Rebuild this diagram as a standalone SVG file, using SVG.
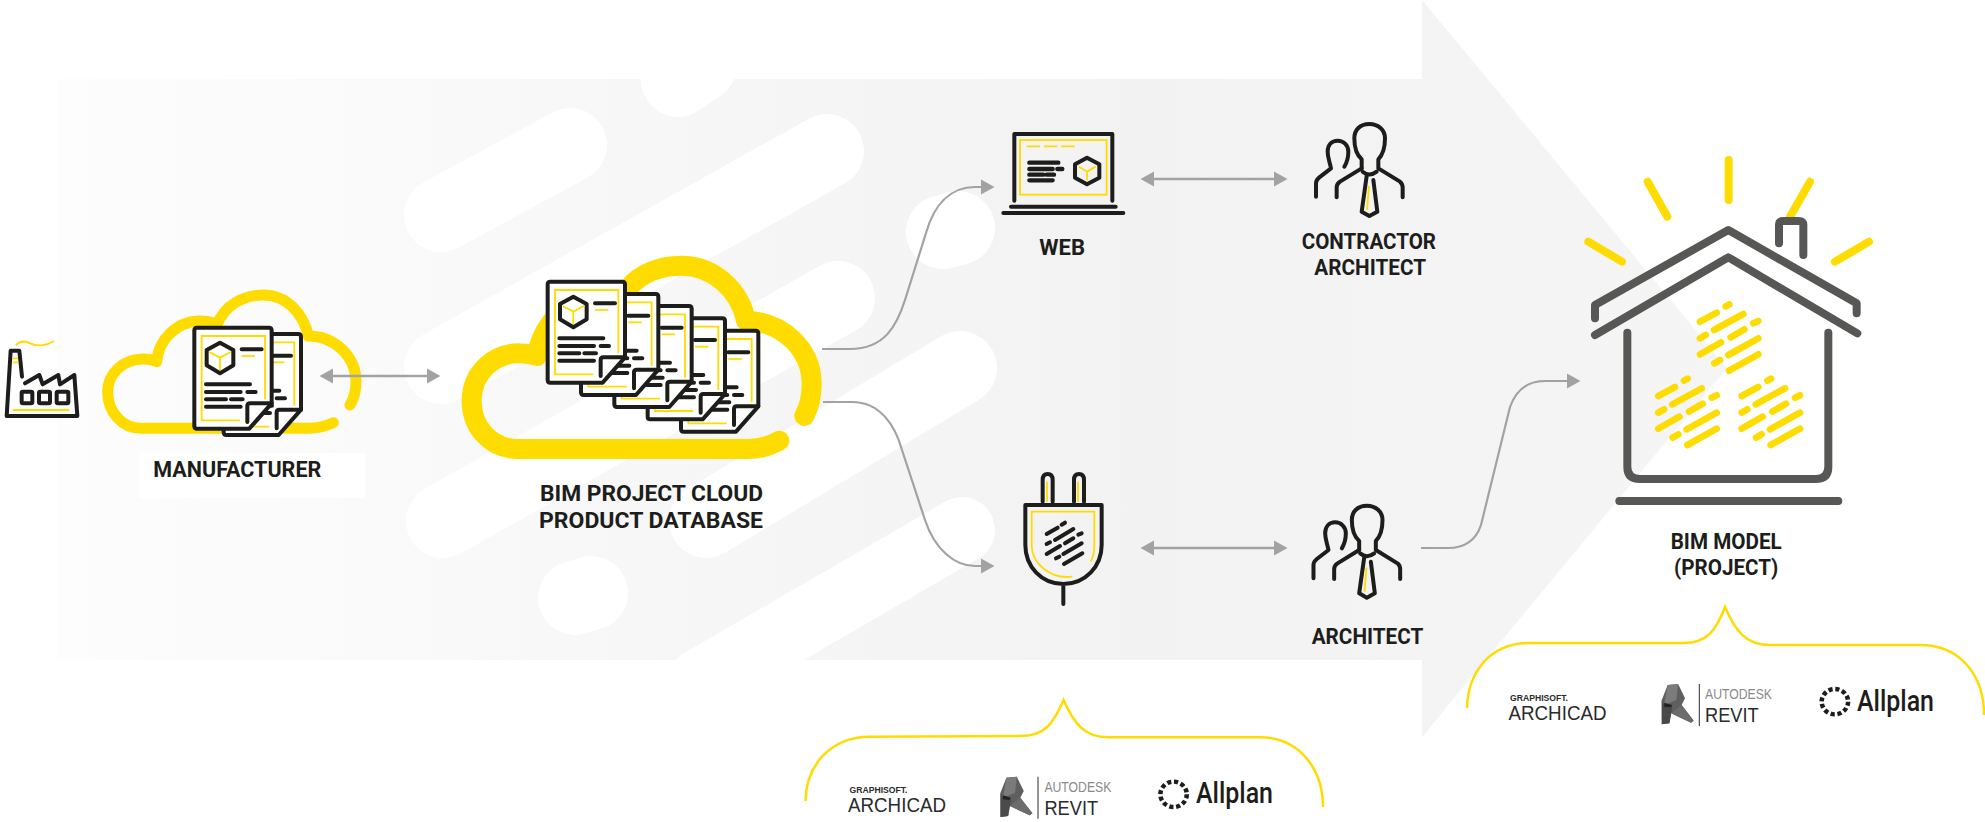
<svg xmlns="http://www.w3.org/2000/svg" xmlns:xlink="http://www.w3.org/1999/xlink" width="1985" height="822" viewBox="0 0 1985 822">
<style>
.k{fill:none;stroke:#1d1d1b;stroke-width:12;stroke-linecap:round;stroke-linejoin:round}
.y{fill:none;stroke:#ffdc00;stroke-width:5.5;stroke-linecap:butt;stroke-linejoin:miter}
.cy{fill:none;stroke:#ffdc00;stroke-linecap:round;stroke-linejoin:round}
.h{fill:none;stroke:#575756;stroke-width:24;stroke-linecap:round;stroke-linejoin:round}
.r{fill:none;stroke:#ffdc00;stroke-width:24;stroke-linecap:round}
.d{fill:none;stroke:#ffdc00;stroke-width:20;stroke-linecap:round}
.w{fill:none;stroke:#fff;stroke-width:74;stroke-linecap:round}
.a{fill:none;stroke:#a2a2a2;stroke-width:2.4}
.c{fill:none;stroke:#a2a2a2;stroke-width:2.2}
.b{fill:none;stroke:#ffdc00;stroke-width:2.5}
.t{font-family:Roboto,"Liberation Sans",sans-serif;font-weight:700;font-size:22px;fill:#1d1d1b}
.l1{font-family:"Liberation Sans",Arial,sans-serif;fill:#2b2b2b}
.l2{font-family:Roboto,"Liberation Sans",sans-serif;fill:#1d1d1b}
</style>
<defs>
<linearGradient id="bg" gradientUnits="userSpaceOnUse" x1="57" y1="0" x2="1728" y2="0">
<stop offset="0" stop-color="#fdfdfd"/><stop offset="0.65" stop-color="#f2f2f2"/><stop offset="1" stop-color="#f5f5f5"/>
</linearGradient>
<clipPath id="bgc"><rect x="57" y="79" width="1400" height="581"/></clipPath>
<marker id="ah" markerUnits="userSpaceOnUse" markerWidth="14" markerHeight="16" refX="1" refY="8" orient="auto-start-reverse" viewBox="0 0 14 16"><path d="M0,0.5 L13.5,8 L0,15.5 Z" fill="#a2a2a2"/></marker>
<g id="page">
<path d="M8,0 H224 Q232,0 232,8 V227 L165,303 H8 Q0,303 0,295 V8 Q0,0 8,0 Z" fill="#fff" stroke="#1d1d1b" stroke-width="12" stroke-linejoin="round"/>
<path class="y" d="M137,278 H22 V25 H212 V215"/>
<path class="k" d="M77,45 L117,67 V113 L77,137 L37,113 V67 Z"/>
<path class="y" d="M45,73 L77,90 L109,73 M77,90 V127"/>
<path class="k" d="M142,65 H202 M35,170 H167 M35,193 H139 M159,193 H184 M35,215 H95 M110,215 H145 M35,237 H139"/>
<path class="y" d="M142,85 H182"/>
<path class="k" d="M159,283 V235 Q159,227 167,227 H232"/>
</g>
<g id="person">
<path class="k" d="M305,205 V178 C290,165 283,145 283,115 C283,90 300,72 328,72 C355,72 375,90 375,115 C375,145 368,165 355,178 V205 L420,245 Q428,252 428,262 V292"/>
<path class="k" d="M305,205 L240,245 Q230,252 230,262 V292"/>
<path class="k" d="M253,200 C265,180 265,165 265,155 C265,135 250,122 233,122 C215,122 203,135 203,155 C203,172 208,182 213,205 L178,232 Q168,240 168,250 V290"/>
<path class="k" d="M308,215 Q328,232 350,215 M320,228 L305,335 L328,348 L352,335 L340,240"/>
<path class="y" d="M327,258 L321,330"/>
</g>
<g id="hexd">
<path class="d" d="M480,545 L530,518 M557,499 L568,493 M522,570 L610,522 M640,550 L655,543 M480,595 L497,585 M572,592 L613,568 M480,643 L543,607 M565,645 L655,595 M523,670 L540,660 M567,692 L655,643"/>
</g>
<g id="revitmark">
<path d="M638,330 L655,285 L685,282 L705,325 L695,345 L730,392 L722,398 L665,370 L660,400 L638,403 Z" fill="#5f5f5f"/>
<path d="M655,285 L685,282 L680,330 L645,345 Z" fill="#7b7b7b"/>
<path d="M638,330 L645,345 L668,352 L660,400 L638,403 Z" fill="#4a4a4a"/>
<path d="M645,338 L668,345 L665,352 L645,350 Z" fill="#222"/>
<path d="M695,345 L730,392 L722,398 L665,370 Z" fill="#6c6c6c"/>
<path d="M746,282 V408" stroke="#333" stroke-width="3" fill="none"/>
</g>
<circle id="ring" cx="1136" cy="335" r="38" fill="none" stroke="#1d1d1b" stroke-width="13" stroke-dasharray="12 7.9"/>
</defs>

<g id="background">
<path d="M57,79 H1422 V0 L1727,368 L1422,737 V660 H57 Z" fill="url(#bg)"/>
<g clip-path="url(#bgc)">
<path class="w" d="M570,145 L441,215"/>
<path class="w" d="M827,151 L441,367"/>
<path class="w" d="M838,298 L443,521"/>
<path class="w" d="M960,368 L706,521"/>
<path class="w" d="M962,530 L700,682" style="stroke-width:66"/>
<path class="w" d="M700,65 L678,80"/>
<path class="w" d="M958,228 L943,232"/>
<path class="w" d="M591,593 L575,598"/>
</g>
<rect x="139" y="453" width="226" height="45" fill="#fff"/>
</g>

<g id="factory" transform="translate(0,260) scale(0.33333)">
<path class="k" d="M66,350 L58,272 L32,272 L20,468 H232 L223,345 L180,373 L175,345 L128,373 L118,345 L75,370"/>
<rect class="k" x="65" y="395" width="32" height="35" rx="4"/>
<rect class="k" x="117" y="395" width="33" height="35" rx="4"/>
<rect class="k" x="170" y="395" width="35" height="35" rx="4"/>
<path class="y" d="M38,450 H208 M38,295 H54 M38,307 H55 M47,256 Q65,238 85,248 T125,256 T162,243"/>
</g>

<g id="manufacturer" transform="translate(0,260) scale(0.33333)">
<path class="cy" stroke-width="33" d="M1000,488 C975,500 955,505 925,505 L425,505 C365,505 323,455 323,395 C323,340 370,297 430,297 C445,297 460,300 470,305 C475,240 530,183 600,183 C620,183 640,188 652,192 C675,135 730,105 790,105 C860,105 910,160 925,228 C1005,228 1068,290 1068,365 C1068,395 1062,415 1050,435"/>
<use xlink:href="#page" href="#page" transform="translate(671,222)"/>
<use xlink:href="#page" href="#page" transform="translate(583,203)"/>
</g>
<text class="t" x="153.3" y="477.3" textLength="168" lengthAdjust="spacingAndGlyphs">MANUFACTURER</text>

<g id="cloud" transform="translate(440,230) scale(0.33333)">
<path class="cy" stroke-width="60" d="M1018,632 C990,648 960,657 925,657 L235,657 C150,657 95,590 95,512 C95,430 160,370 235,370 C255,370 275,373 292,378 C300,300 370,210 460,200 C500,195 540,195 565,175 C600,130 660,107 725,107 C820,107 900,180 918,272 C1030,275 1115,360 1115,462 C1115,495 1108,530 1093,558"/>
<use xlink:href="#page" href="#page" transform="translate(723,302)"/>
<use xlink:href="#page" href="#page" transform="translate(623,265)"/>
<use xlink:href="#page" href="#page" transform="translate(523,228)"/>
<use xlink:href="#page" href="#page" transform="translate(423,192)"/>
<use xlink:href="#page" href="#page" transform="translate(323,155)"/>
</g>
<text class="t" x="540" y="501" textLength="223" lengthAdjust="spacingAndGlyphs">BIM PROJECT CLOUD</text>
<text class="t" x="539" y="528" textLength="224" lengthAdjust="spacingAndGlyphs">PRODUCT DATABASE</text>

<g id="web" transform="translate(960,100) scale(0.33333)">
<path class="k" d="M163,302 V102 H457 V302"/>
<path class="k" d="M153,320 H467 M130,339 H490"/>
<rect class="y" x="180" y="120" width="260" height="164"/>
<path class="y" d="M200,139 H240 M252,139 H292 M304,139 H344"/>
<path class="k" style="stroke-width:13" d="M208,188 H295 M208,207 H278 M292,207 H307 M208,224 H250 M260,224 H282 M208,241 H278"/>
<path class="k" d="M381,173 L418,193 V233 L381,253 L345,233 V193 Z"/>
<path class="y" d="M357,200 L381,215 L407,200 M381,215 V241"/>
</g>
<text class="t" x="1039.3" y="255" textLength="45.7" lengthAdjust="spacingAndGlyphs">WEB</text>

<g id="contractor" transform="translate(1260,100) scale(0.33333)"><use xlink:href="#person" href="#person"/></g>
<text class="t" x="1301.7" y="249" textLength="134.3" lengthAdjust="spacingAndGlyphs">CONTRACTOR</text>
<text class="t" x="1314.3" y="275" textLength="111.7" lengthAdjust="spacingAndGlyphs">ARCHITECT</text>

<g id="plug" transform="translate(960,450) scale(0.33333)">
<path class="k" d="M248,155 V90 Q248,72 263,72 Q278,72 278,90 V155 M342,155 V90 Q342,72 357,72 Q372,72 372,90 V155"/>
<path class="y" d="M261,95 V155 M354,95 V155"/>
<path class="k" d="M196,165 H425 V285 C425,350 375,402 310,402 C245,402 196,350 196,285 Z M310,402 V462"/>
<path class="y" d="M392,335 Q403,315 403,285 V185 H215 V285 C215,340 270,388 337,380"/>
<path class="k" d="M260,252 L293,233 M305,224 L315,218 M260,282 L270,277 M285,270 L340,237 M315,280 L340,265 M355,254 L365,250 M260,312 L300,288 M310,312 L365,280 M288,325 L298,320 M312,342 L367,310"/>
</g>

<g id="architect" transform="translate(1257.5,481.7) scale(0.33333)"><use xlink:href="#person" href="#person"/></g>
<text class="t" x="1311.7" y="644" textLength="111.6" lengthAdjust="spacingAndGlyphs">ARCHITECT</text>

<g id="house" transform="translate(1540,140) scale(0.33333)">
<path class="r" d="M566,60 V180 M323,125 L382,230 M810,125 L750,230 M145,305 L246,365 M987,305 L885,365"/>
<path class="h" d="M165,535 V495 L565,270 L950,490 V520 M165,585 L565,352 L952,580 M717,310 V255 Q717,243 730,243 H775 Q790,243 790,255 V345"/>
<path class="h" d="M262,578 V980 Q262,1017 300,1017 H827 Q865,1017 865,980 V578 M238,1083 H895"/>
<use xlink:href="#hexd" href="#hexd"/>
<use xlink:href="#hexd" href="#hexd" transform="translate(-125,223)"/>
<use xlink:href="#hexd" href="#hexd" transform="translate(125,223)"/>
</g>
<text class="t" x="1670.7" y="549" textLength="111" lengthAdjust="spacingAndGlyphs">BIM MODEL</text>
<text class="t" x="1674" y="575" textLength="104.3" lengthAdjust="spacingAndGlyphs">(PROJECT)</text>

<g id="software-right">
<path class="b" d="M1467,708 C1468,672 1490,643 1530,643 L1683,643 C1708,643 1716,630 1725,607 C1735,630 1745,645 1770,645 L1920,645 C1960,645 1984,675 1984,715"/>
<g transform="translate(1440,590) scale(0.3476,0.33333)"><use xlink:href="#revitmark" href="#revitmark"/><use xlink:href="#ring" href="#ring"/></g>
<text class="l1" x="1510" y="701" font-size="8.5" font-weight="700" textLength="58" lengthAdjust="spacingAndGlyphs">GRAPHISOFT.</text>
<text class="l1" x="1508.5" y="720" font-size="21" textLength="98" lengthAdjust="spacingAndGlyphs">ARCHICAD</text>
<text class="l1" x="1705" y="699" font-size="14.5" style="fill:#8a8a8a" textLength="67" lengthAdjust="spacingAndGlyphs">AUTODESK</text>
<text class="l1" x="1705" y="721.7" font-size="21" textLength="53.7" lengthAdjust="spacingAndGlyphs">REVIT</text>
<text class="l2" x="1857" y="710.7" font-size="29" font-weight="500" textLength="77" lengthAdjust="spacingAndGlyphs">Allplan</text>
</g>

<g id="software-bottom">
<path class="b" d="M805.5,801 C806,766 830,736.7 870,736.7 L1020,736 C1045,736 1053,724 1063.6,700 C1074,724 1085,737.3 1108,737.3 L1260,737.3 C1300,737.3 1323,770 1323,807"/>
<g transform="translate(778.7,682.7) scale(0.3476,0.33333)"><use xlink:href="#revitmark" href="#revitmark"/><use xlink:href="#ring" href="#ring"/></g>
<text class="l1" x="849.5" y="793.3" font-size="8.5" font-weight="700" textLength="58" lengthAdjust="spacingAndGlyphs">GRAPHISOFT.</text>
<text class="l1" x="848" y="812.3" font-size="21" textLength="98" lengthAdjust="spacingAndGlyphs">ARCHICAD</text>
<text class="l1" x="1044.4" y="791.7" font-size="14.5" style="fill:#8a8a8a" textLength="67" lengthAdjust="spacingAndGlyphs">AUTODESK</text>
<text class="l1" x="1044.4" y="815" font-size="21" textLength="53.7" lengthAdjust="spacingAndGlyphs">REVIT</text>
<text class="l2" x="1196" y="803.3" font-size="29" font-weight="500" textLength="77" lengthAdjust="spacingAndGlyphs">Allplan</text>
</g>

<g id="connectors">
<path class="a" d="M332,376 H428" marker-start="url(#ah)" marker-end="url(#ah)"/>
<path class="a" d="M1153,179 H1275" marker-start="url(#ah)" marker-end="url(#ah)"/>
<path class="a" d="M1153,548 H1275" marker-start="url(#ah)" marker-end="url(#ah)"/>
<path class="c" d="M822,349 L850,349 C885,349 897,325 905,300 L926,233 C934,205 950,187 975,187 L982,187" marker-end="url(#ah)"/>
<path class="c" d="M823,402 L852,402 C880,402 895,425 902,450 L925,520 C935,550 955,566 975,566 L982,566" marker-end="url(#ah)"/>
<path class="c" d="M1421,548 H1448 C1465,548 1476,540 1481,525 L1510,407 C1516,390 1528,381 1545,381 H1568" marker-end="url(#ah)"/>
</g>
</svg>
